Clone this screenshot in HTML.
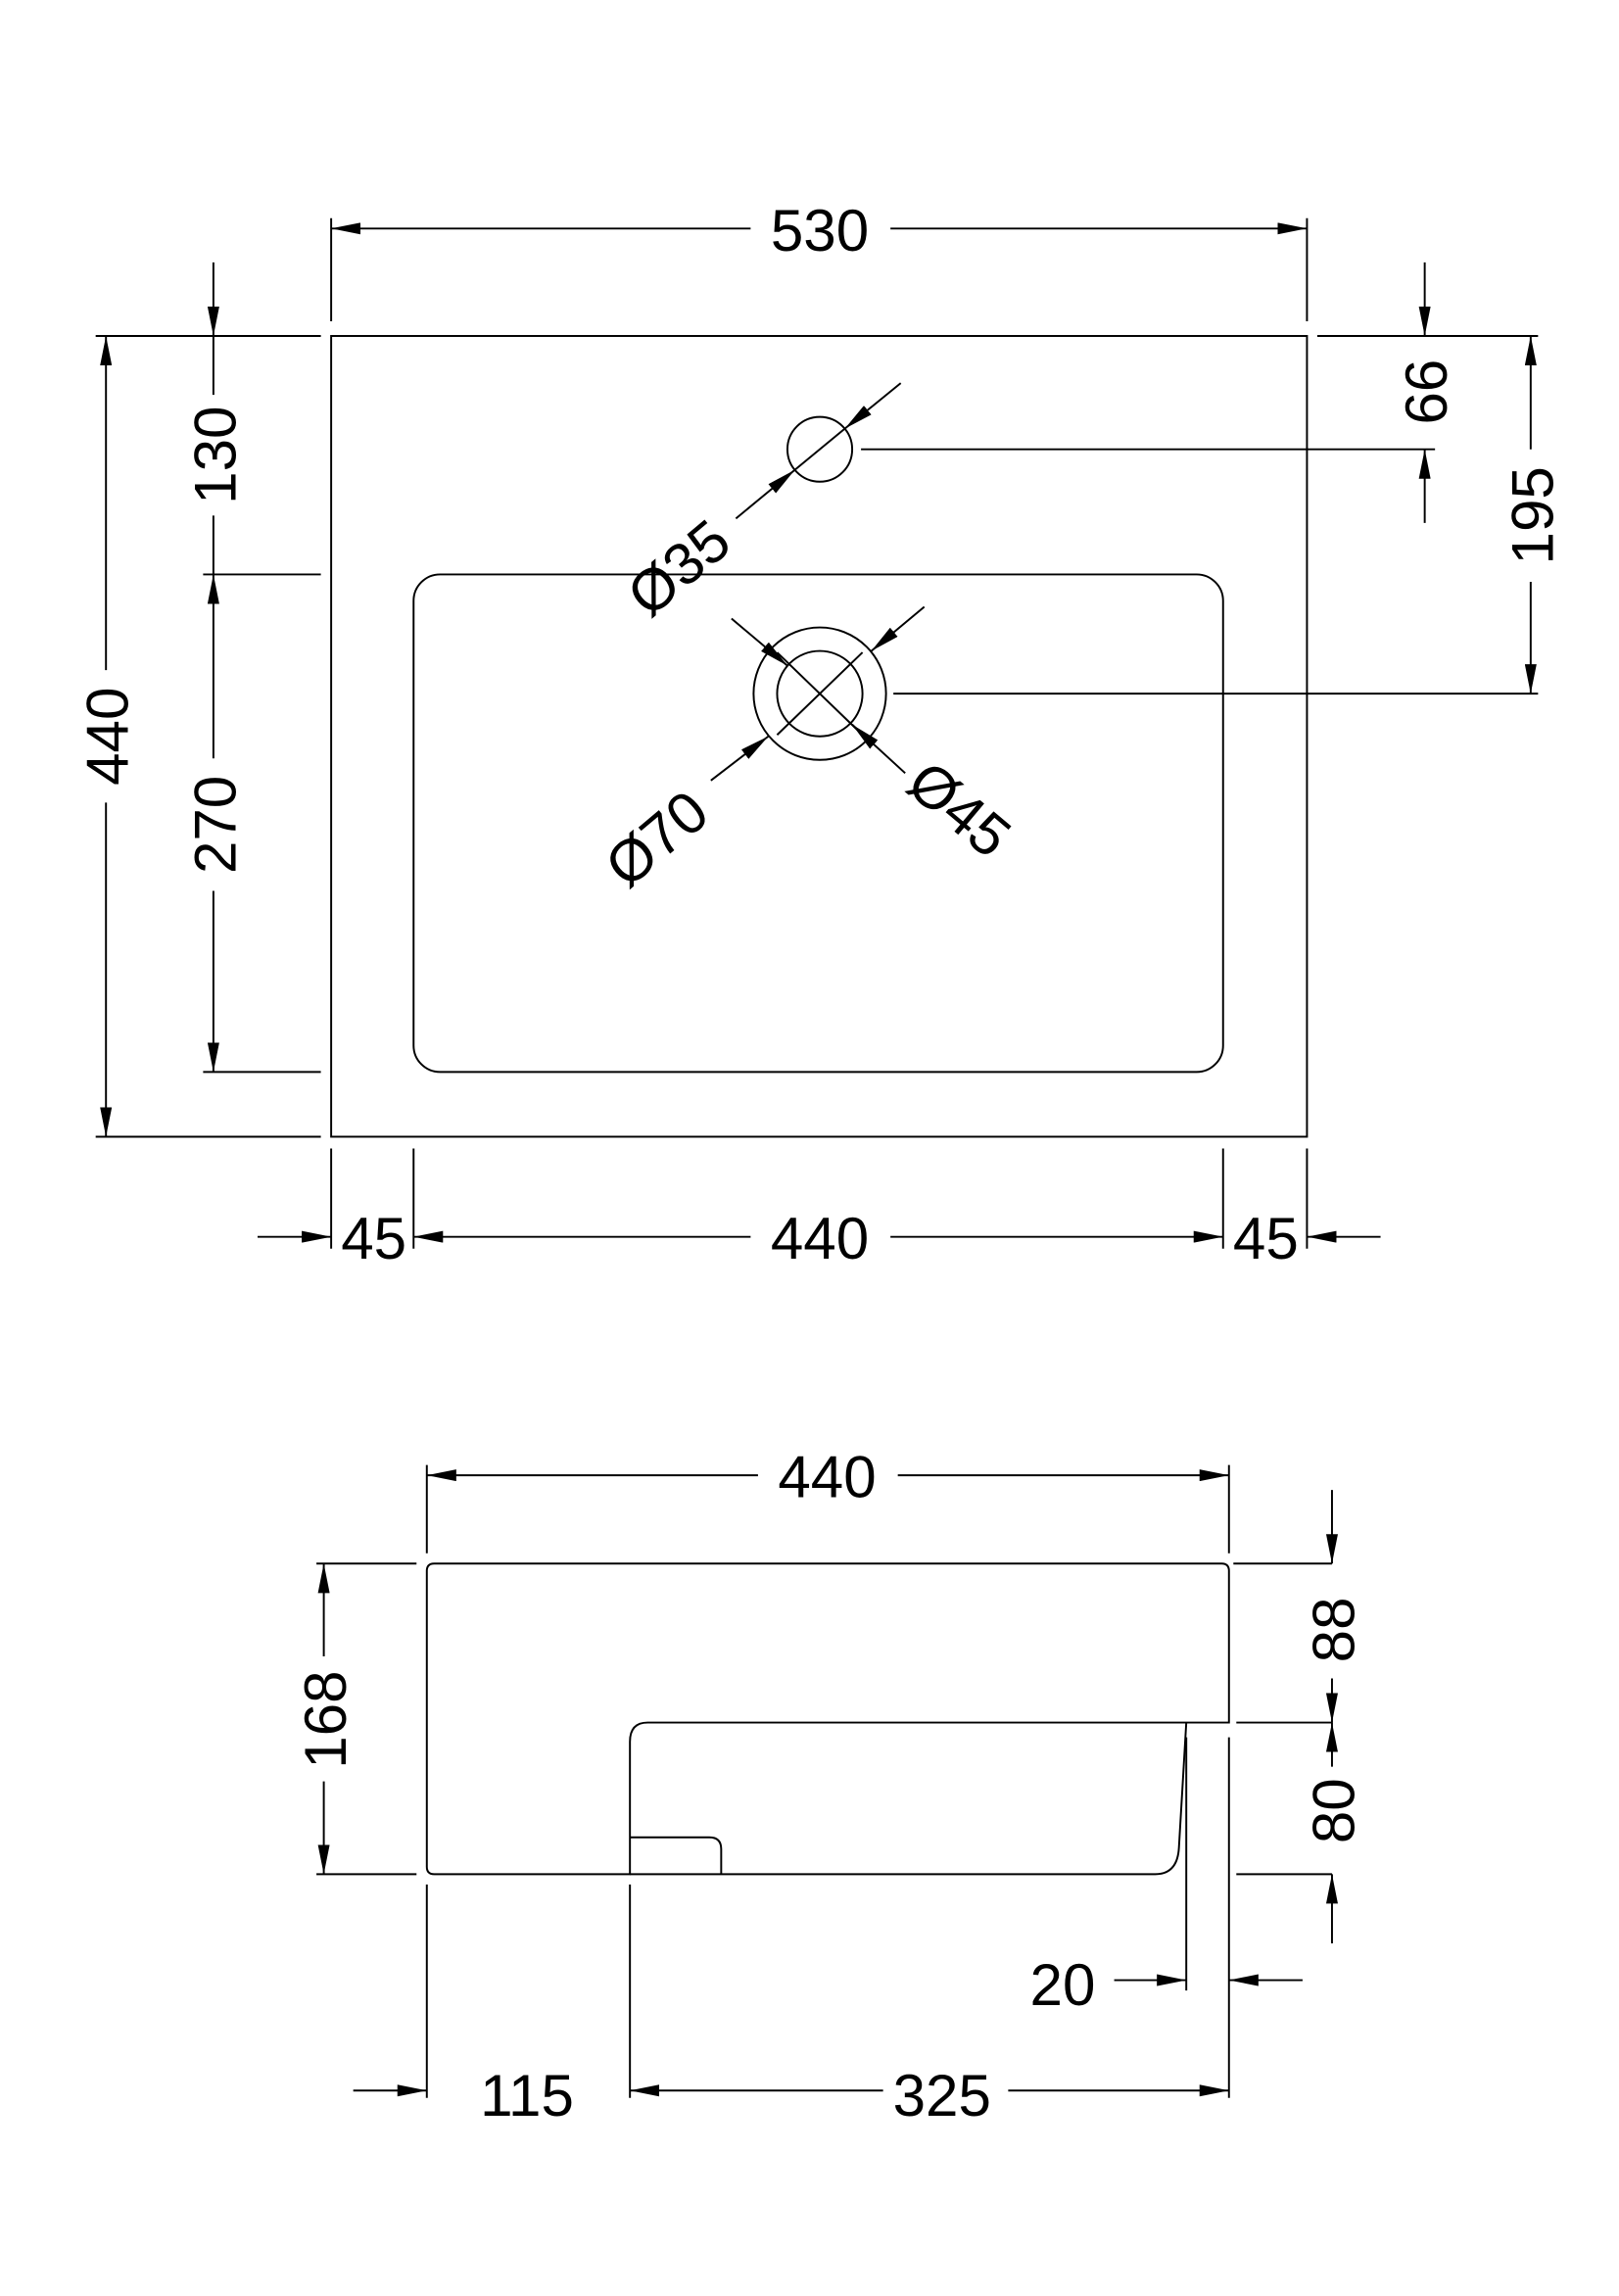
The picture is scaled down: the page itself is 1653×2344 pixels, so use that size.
<!DOCTYPE html>
<html><head><meta charset="utf-8"><style>html,body{margin:0;padding:0;background:#fff}</style></head>
<body>
<svg width="1653" height="2339" viewBox="0 0 1100 1556" xmlns="http://www.w3.org/2000/svg">
<defs>
<marker id="a" viewBox="0 0 20 8" refX="20" refY="4" markerWidth="20" markerHeight="8" markerUnits="userSpaceOnUse" orient="auto"><path d="M0,0 L20,4 L0,8 Z" fill="#000"/></marker>
</defs>
<g fill="none" stroke="#000" stroke-width="1.3">
<!-- top view -->
<rect x="225" y="228" width="663" height="544"/>
<rect x="281" y="390" width="550" height="338" rx="18"/>
<circle cx="557" cy="305" r="22"/>
<circle cx="557" cy="471" r="45"/>
<circle cx="557" cy="471" r="29"/>
<line x1="528" y1="443" x2="586" y2="499"/>
<line x1="586" y1="443" x2="528" y2="499"/>
<!-- extension lines -->
<line x1="225" y1="148" x2="225" y2="218"/><line x1="888" y1="148" x2="888" y2="218"/>
<line x1="65" y1="228" x2="218" y2="228"/><line x1="65" y1="772" x2="218" y2="772"/>
<line x1="138" y1="390" x2="218" y2="390"/><line x1="138" y1="728" x2="218" y2="728"/>
<line x1="895" y1="228" x2="1045" y2="228"/><line x1="585" y1="305" x2="975" y2="305"/>
<line x1="607" y1="471" x2="1045" y2="471"/>
<line x1="225" y1="780" x2="225" y2="848"/><line x1="281" y1="780" x2="281" y2="848"/>
<line x1="831" y1="780" x2="831" y2="848"/><line x1="888" y1="780" x2="888" y2="848"/>
<!-- dims -->
<line x1="510" y1="155" x2="225" y2="155" marker-end="url(#a)"/><line x1="605" y1="155" x2="888" y2="155" marker-end="url(#a)"/>
<line x1="72" y1="455" x2="72" y2="228" marker-end="url(#a)"/><line x1="72" y1="545" x2="72" y2="772" marker-end="url(#a)"/>
<line x1="145" y1="178" x2="145" y2="228" marker-end="url(#a)"/><line x1="145" y1="228" x2="145" y2="268"/>
<line x1="145" y1="350" x2="145" y2="390"/>
<line x1="145" y1="515" x2="145" y2="390" marker-end="url(#a)"/><line x1="145" y1="605" x2="145" y2="728" marker-end="url(#a)"/>
<line x1="968" y1="178" x2="968" y2="228" marker-end="url(#a)"/><line x1="968" y1="355" x2="968" y2="305" marker-end="url(#a)"/>
<line x1="1040" y1="305" x2="1040" y2="228" marker-end="url(#a)"/><line x1="1040" y1="395" x2="1040" y2="471" marker-end="url(#a)"/>
<line x1="175" y1="840" x2="225" y2="840" marker-end="url(#a)"/>
<line x1="510" y1="840" x2="281" y2="840" marker-end="url(#a)"/><line x1="605" y1="840" x2="831" y2="840" marker-end="url(#a)"/>
<line x1="938" y1="840" x2="888" y2="840" marker-end="url(#a)"/>
<!-- diameter leaders -->
<line x1="612" y1="260" x2="574" y2="291" marker-end="url(#a)"/><line x1="574" y1="291" x2="540" y2="319"/>
<line x1="500" y1="352" x2="540" y2="319" marker-end="url(#a)"/>
<line x1="628" y1="412" x2="592" y2="442" marker-end="url(#a)"/>
<line x1="483" y1="530" x2="522" y2="500" marker-end="url(#a)"/>
<line x1="497" y1="420" x2="535" y2="452" marker-end="url(#a)"/>
<line x1="615" y1="525" x2="579" y2="492" marker-end="url(#a)"/>
<!-- side view -->
<path d="M295,1062 H830 Q835,1062 835,1067 V1170 H440 Q428,1170 428,1183 V1273 H295 Q290,1273 290,1268 V1067 Q290,1062 295,1062 Z"/>
<path d="M428,1273 H785 Q800,1273 801,1255 L806,1170"/>
<path d="M428,1248 H482 Q490,1248 490,1256 V1273"/>
<line x1="290" y1="995" x2="290" y2="1055"/><line x1="835" y1="995" x2="835" y2="1055"/>
<line x1="215" y1="1062" x2="283" y2="1062"/><line x1="215" y1="1273" x2="283" y2="1273"/>
<line x1="838" y1="1062" x2="905" y2="1062"/><line x1="840" y1="1170" x2="905" y2="1170"/><line x1="840" y1="1273" x2="905" y2="1273"/>
<line x1="806" y1="1180" x2="806" y2="1352"/><line x1="835" y1="1180" x2="835" y2="1425"/>
<line x1="290" y1="1280" x2="290" y2="1425"/><line x1="428" y1="1280" x2="428" y2="1425"/>
<line x1="515" y1="1002" x2="290" y2="1002" marker-end="url(#a)"/><line x1="610" y1="1002" x2="835" y2="1002" marker-end="url(#a)"/>
<line x1="220" y1="1125" x2="220" y2="1062" marker-end="url(#a)"/><line x1="220" y1="1210" x2="220" y2="1273" marker-end="url(#a)"/>
<line x1="905" y1="1012" x2="905" y2="1062" marker-end="url(#a)"/>
<line x1="905" y1="1140" x2="905" y2="1170" marker-end="url(#a)"/>
<line x1="905" y1="1200" x2="905" y2="1170" marker-end="url(#a)"/>
<line x1="905" y1="1320" x2="905" y2="1273" marker-end="url(#a)"/>
<line x1="757" y1="1345" x2="806" y2="1345" marker-end="url(#a)"/><line x1="885" y1="1345" x2="835" y2="1345" marker-end="url(#a)"/>
<line x1="240" y1="1420" x2="290" y2="1420" marker-end="url(#a)"/>
<line x1="600" y1="1420" x2="428" y2="1420" marker-end="url(#a)"/><line x1="685" y1="1420" x2="835" y2="1420" marker-end="url(#a)"/>
</g>
<g font-family="Liberation Sans, sans-serif" font-size="40" fill="#000" text-anchor="middle">
<text x="557" y="170">530</text>
<text transform="translate(87,500) rotate(-90)">440</text>
<text transform="translate(160,309) rotate(-90)">130</text>
<text transform="translate(160,560) rotate(-90)">270</text>
<text transform="translate(983,266) rotate(-90)">66</text>
<text transform="translate(1055,350) rotate(-90)">195</text>
<text x="254" y="855">45</text>
<text x="557" y="855">440</text>
<text x="860" y="855">45</text>
<text transform="translate(470,396) rotate(-40)">Ø35</text>
<text transform="translate(455,580) rotate(-40)">Ø70</text>
<text transform="translate(643,560) rotate(40)">Ø45</text>
<text x="562" y="1017">440</text>
<text transform="translate(235,1168) rotate(-90)">168</text>
<text transform="translate(920,1107) rotate(-90)">88</text>
<text transform="translate(920,1230) rotate(-90)">80</text>
<text x="722" y="1362">20</text>
<text x="358" y="1437">115</text>
<text x="640" y="1437">325</text>
</g>
</svg>
</body></html>
